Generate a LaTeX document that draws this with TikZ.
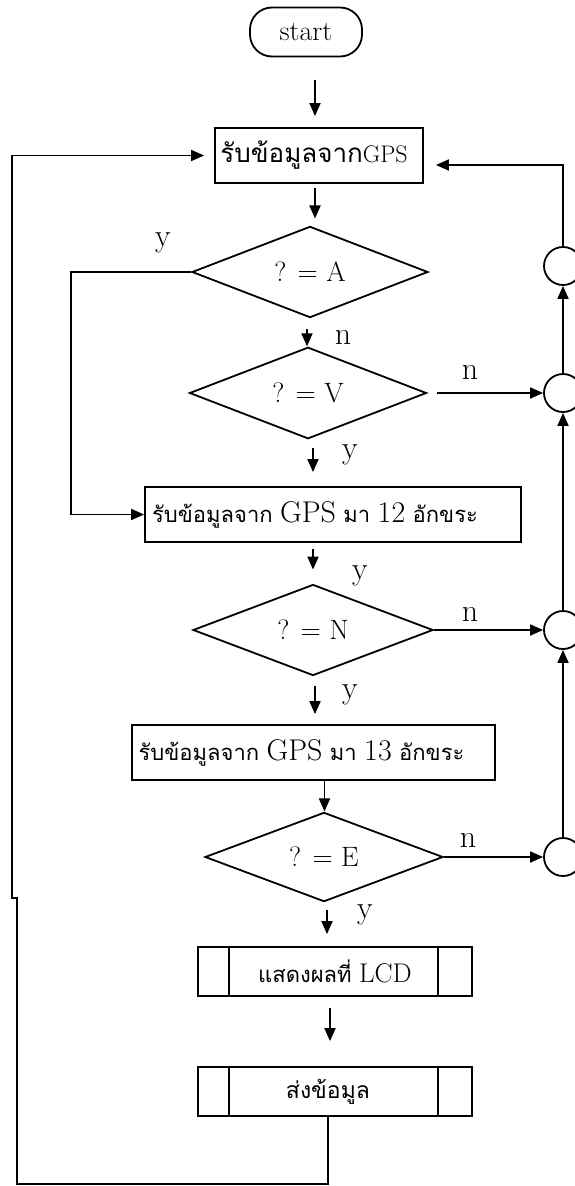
\documentclass[tikz,border=0pt]{standalone}
\usepackage{fontspec}
\usetikzlibrary{shapes.geometric,arrows.meta}
\newfontfamily\thaifnt[Script=Thai]{Loma}
\newcommand\lat[1]{{\rmfamily\fontsize{30}{32}\selectfont #1}}

\tikzset{
  line/.style={line width=1.8pt},
  arr/.style={line, -{Triangle[length=13pt,width=11pt]}},
  box/.style={draw, line width=1.8pt, rectangle, inner sep=0pt},
  dec/.style={draw, diamond, line width=1.8pt, inner sep=0pt,
              font=\fontsize{28}{30}\selectfont},
  joint/.style={draw, circle, line width=1.8pt, minimum size=38pt, inner sep=0pt},
  lbl/.style={inner sep=0pt, font=\fontsize{32}{34}\selectfont},
}

\begin{document}
\begin{tikzpicture}[x=1pt, y={(0pt,-1pt)}]
\useasboundingbox (0,0) rectangle (574,1186);
\fill[white] (0,0) rectangle (574,1186);

% main column
\node[box, rounded corners=22pt, minimum width=112pt, minimum height=49pt,
      font=\fontsize{28}{30}\selectfont] (start) at (306,32) {start};
\node[box, minimum width=208pt, minimum height=55pt] (b1) at (319,155.5)
  {\thaifnt\fontsize{26}{28}\selectfont รับข้อมูลจาก{\rmfamily\fontsize{24}{26}\selectfont GPS}\hspace*{10pt}};
\node[dec, minimum width=236pt, minimum height=73pt] (A) at (310,272) {? = A};
\node[dec, minimum width=237pt, minimum height=75pt] (V) at (308,393) {? = V};
\node[box, minimum width=376pt, minimum height=55pt] (b12) at (333,514.5)
  {\thaifnt\fontsize{22}{24}\selectfont รับข้อมูลจาก \lat{GPS} มา \lat{12} อักขระ\hspace*{36pt}};
\node[dec, minimum width=240pt, minimum height=70pt] (N) at (313,630) {? = N};
\node[box, minimum width=363pt, minimum height=55pt] (b13) at (313.5,752.5)
  {\thaifnt\fontsize{22}{24}\selectfont รับข้อมูลจาก \lat{GPS} มา \lat{13} อักขระ\hspace*{24pt}};
\node[dec, minimum width=238pt, minimum height=71pt] (E) at (324,857) {? = E};
\node[box, minimum width=274pt, minimum height=49pt] (lcd) at (335,971.5)
  {\thaifnt\fontsize{22}{24}\selectfont แสดงผลที่ {\rmfamily\fontsize{27}{29}\selectfont LCD}};
\node[box, minimum width=274pt, minimum height=49pt] (send) at (335,1091.5)
  {\thaifnt\fontsize{23}{25}\selectfont ส่งข้อมูล\hspace*{14pt}};

% side bars of the predefined-process boxes
\foreach \n in {lcd,send}{
  \draw[line] ([xshift=32pt]\n.north west) -- ([xshift=32pt]\n.south west);
  \draw[line] ([xshift=-35pt]\n.north east) -- ([xshift=-35pt]\n.south east);
}

% connector circles
\node[joint] (c1) at (563,266) {};
\node[joint] (c2) at (563,393) {};
\node[joint] (c3) at (563,630) {};
\node[joint] (c4) at (563,857) {};

% downward flow
\draw[arr, shorten <=23pt, shorten >=11pt] ([xshift=9pt]start.south) -- ([xshift=9pt]start.south |- b1.north);
\draw[arr, shorten <=4pt, shorten >=7pt] ([xshift=-4pt]b1.south) -- ([xshift=-4pt]b1.south |- A.north);
\draw[arr, shorten <=10pt] ([xshift=-3pt]A.south) -- ([xshift=-3pt]A.south |- V.north);
\draw[arr, shorten <=8pt, shorten >=14pt] ([xshift=5pt]V.south) -- ([xshift=5pt]V.south |- b12.north);
\draw[arr, shorten <=6pt, shorten >=14pt] ([xshift=-20pt]b12.south) -- ([xshift=-20pt]b12.south |- N.north);
\draw[arr, shorten <=10pt, shorten >=10pt] ([xshift=2pt]N.south) -- ([xshift=2pt]N.south |- b13.north);
\draw[arr] ([xshift=11pt]b13.south) -- ([xshift=11pt]b13.south |- E.north);
\draw[arr, shorten <=7pt, shorten >=12pt] ([xshift=3pt]E.south) -- ([xshift=3pt]E.south |- lcd.north);
\draw[arr, shorten <=11pt, shorten >=25pt] ([xshift=-5pt]lcd.south) -- ([xshift=-5pt]lcd.south |- send.north);

% "n" branches to the connector circles
\draw[arr, shorten <=10pt] (V.east) -- (c2.west);
\draw[arr] (N.east) -- (c3.west);
\draw[arr] (E.east) -- (c4.west);

% right return column
\draw[arr] (c4) -- (c3);
\draw[arr] (c3) -- (c2);
\draw[arr] (c2) -- (c1);
\coordinate (rt) at (563,165);
\draw[arr, shorten >=12pt] (c1.north) -- (rt) -- (rt -| b1.east);

% "y" branch of ?=A
\draw[arr] (A.west) -- ++(-120,0) |- (b12.west);

% loop back from the last box
\coordinate (bl1) at (17,1184);
\coordinate (bl2) at (17,898);
\coordinate (bl3) at (12,898);
\coordinate (bl4) at (12,155.5);
\draw[arr, shorten >=10pt] ([xshift=-7pt]send.south) |- (bl1) -- (bl2) -- (bl3) -- (bl4) -- (b1.west);

% branch labels
\node[lbl] (yA)  at (163,243) {y};
\node[lbl] (nA)  at (343,337) {n};
\node[lbl] (nV)  at (470,372) {n};
\node[lbl] (yV)  at (350,455) {y};
\node[lbl] (y12) at (360,576) {y};
\node[lbl] (nN)  at (470,614) {n};
\node[lbl] (yN)  at (350,695) {y};
\node[lbl] (nE)  at (468,840) {n};
\node[lbl] (yE)  at (365,915) {y};
\end{tikzpicture}
\end{document}
